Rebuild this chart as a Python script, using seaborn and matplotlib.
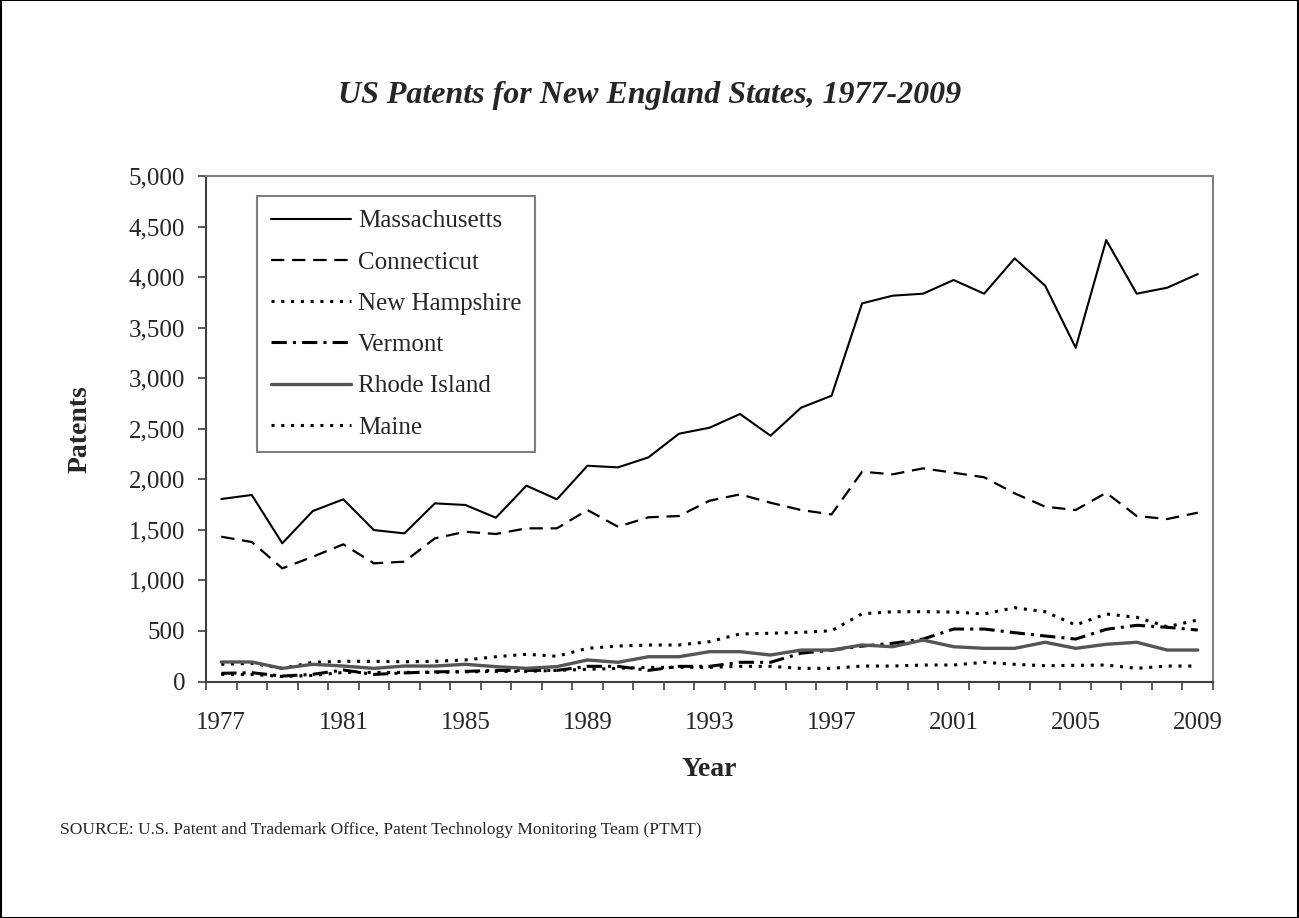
import numpy as np
import pandas as pd
import matplotlib.pyplot as plt
import seaborn as sns
from matplotlib.patches import Rectangle
from matplotlib.ticker import FuncFormatter

# data
years = list(range(1977, 2010))
states = ['Massachusetts', 'Connecticut', 'New Hampshire', 'Vermont', 'Rhode Island', 'Maine']

massachusetts = [1805, 1845, 1367, 1686, 1802, 1498, 1465, 1762, 1746, 1620, 1937,
                 1802, 2134, 2118, 2217, 2451, 2510, 2646, 2431, 2708, 2827,
                 3740, 3816, 3836, 3971, 3836, 4185, 3915, 3301, 4366, 3836, 3895, 4030]
connecticut = [1432, 1380, 1119, 1234, 1357, 1169, 1185, 1416, 1481, 1459, 1515,
               1515, 1696, 1531, 1624, 1637, 1788, 1851, 1768, 1696, 1653,
               2075, 2049, 2108, 2065, 2020, 1861, 1729, 1696, 1867, 1637, 1607, 1670]
new_hampshire = [170, 180, 130, 190, 200, 200, 195, 200, 213, 245, 269,
                 250, 328, 351, 361, 361, 394, 470, 477, 486, 502,
                 670, 690, 690, 687, 668, 730, 690, 559, 668, 635, 542, 608]
vermont = [81, 87, 54, 71, 114, 70, 85, 95, 100, 110, 110,
           110, 150, 150, 110, 150, 150, 190, 190, 280, 310,
           350, 378, 420, 519, 519, 483, 450, 420, 516, 556, 536, 509]
rhode_island = [193, 193, 130, 170, 153, 130, 153, 153, 170, 147, 130,
                147, 213, 190, 245, 245, 295, 295, 262, 311, 311,
                361, 344, 410, 344, 328, 328, 388, 328, 368, 388, 311, 311]
maine = [70, 70, 50, 60, 90, 90, 90, 90, 95, 100, 100,
         110, 120, 130, 140, 140, 140, 150, 150, 130, 130,
         153, 153, 163, 163, 190, 170, 156, 160, 163, 130, 153, 153]

series = [massachusetts, connecticut, new_hampshire, vermont, rhode_island, maine]
df = pd.DataFrame({
    'Year': years * len(states),
    'Patents': [v for s in series for v in s],
    'State': [st for st in states for _ in years],
})

sns.set_style('white')
plt.rcParams['font.family'] = ['Liberation Serif', 'DejaVu Serif']

fig = plt.figure(figsize=(12.99, 9.18), dpi=100)
ax = fig.add_axes([206 / 1299, 1 - 681.5 / 918, 1007 / 1299, 505.5 / 918])

palette = {'Massachusetts': 'black', 'Connecticut': 'black', 'New Hampshire': 'black',
           'Vermont': 'black', 'Rhode Island': '#555555', 'Maine': 'black'}
dashes = {'Massachusetts': '', 'Connecticut': (6, 3.5), 'New Hampshire': (1, 2.2),
          'Vermont': (5, 2, 1, 2), 'Rhode Island': '', 'Maine': (1, 2.2)}
widths = {'Massachusetts': 1.5, 'Connecticut': 1.6, 'New Hampshire': 2.2,
          'Vermont': 2.2, 'Rhode Island': 2.4, 'Maine': 2.2}

sns.lineplot(data=df, x='Year', y='Patents', hue='State', style='State', size='State',
             hue_order=states, style_order=states, size_order=states,
             palette=palette, dashes=dashes, sizes=widths, ax=ax)

# axes
ax.set_xlim(1976.5, 2009.5)
ax.set_ylim(0, 5000)
ax.set_yticks(range(0, 5001, 500))
ax.yaxis.set_major_formatter(FuncFormatter(lambda v, p: f'{int(v):,}'))
ax.set_xticks(range(1977, 2010, 4))
ax.set_xticks(np.arange(1976.5, 2010, 1), minor=True)
ax.tick_params(axis='x', which='major', length=0, pad=22, labelsize=18)
ax.tick_params(axis='x', which='minor', length=6, width=1.2, color='#404040', direction='out', bottom=True)
ax.tick_params(axis='y', length=6, width=1.2, color='#404040', direction='out', left=True, pad=9, labelsize=18)

for side in ['left', 'bottom']:
    ax.spines[side].set_color('#404040')
    ax.spines[side].set_linewidth(1.5)
for side in ['top', 'right']:
    ax.spines[side].set_color('#808080')
    ax.spines[side].set_linewidth(1.5)

ax.set_xlabel('Year', fontsize=20, fontweight='bold')
ax.set_ylabel('Patents', fontsize=20, fontweight='bold')
ax.xaxis.set_label_coords(0.5, -0.15)
ax.yaxis.set_label_coords(-0.113, 0.5)

leg = ax.get_legend()
handles = leg.legend_handles
labels = [t.get_text() for t in leg.get_texts()]
ax.legend(handles, labels, loc='upper left', bbox_to_anchor=(0.0506, 0.9604),
          frameon=True, fancybox=False, edgecolor='#808080', framealpha=1,
          fontsize=18, handlelength=3.2, handletextpad=0.3, labelspacing=0.75,
          borderpad=0.55, borderaxespad=0)
ax.get_legend().get_frame().set_linewidth(1.5)

fig.text(0.5, 1 - 95 / 918, 'US Patents for New England States, 1977-2009',
         ha='center', va='center', fontsize=23, fontweight='bold', fontstyle='italic')
fig.text(60 / 1299, 1 - 830 / 918,
         'SOURCE: U.S. Patent and Trademark Office, Patent Technology Monitoring Team (PTMT)',
         ha='left', va='center', fontsize=12.5)

fig.patches.append(Rectangle((0.0005, 0.0005), 0.999, 0.999, transform=fig.transFigure,
                             fill=False, edgecolor='black', linewidth=1.5))

fig.savefig('out.png', dpi=100)
